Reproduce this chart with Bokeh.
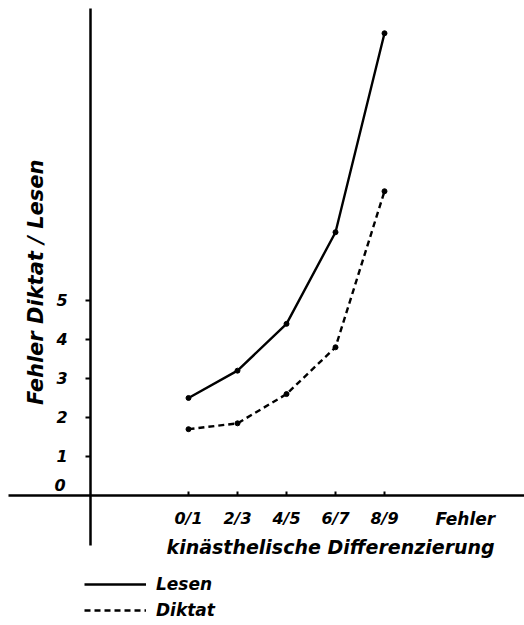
from bokeh.plotting import figure
from bokeh.models import LinearAxis, FixedTicker, Label, Legend, LegendItem, Range1d
from bokeh.embed import file_html
from bokeh.resources import INLINE
import math

# --- data ---
categories = ["0/1", "2/3", "4/5", "6/7", "8/9"]
cat_pos = [2, 3, 4, 5, 6]
lesen = [2.5, 3.2, 4.4, 6.75, 11.85]
diktat = [1.7, 1.85, 2.6, 3.8, 7.8]
y_ticks = [1, 2, 3, 4, 5]

FONT = "DejaVu Sans"

p = figure(width=524, height=625, output_backend="svg", toolbar_location=None,
           x_range=Range1d(-1.837, 8.857), y_range=Range1d(-3.333, 12.69),
           x_axis_location=None, y_axis_location=None,
           min_border_left=0, min_border_right=0, min_border_top=0, min_border_bottom=0)
p.outline_line_color = None
p.xgrid.visible = False
p.ygrid.visible = False
p.background_fill_color = "white"

# y axis at x=0
yax = LinearAxis(fixed_location=0, ticker=FixedTicker(ticks=y_ticks), bounds=(-1.28, 12.49))
yax.axis_line_width = 2.5
yax.axis_line_color = "black"
yax.major_tick_out = 5
yax.major_tick_in = 0
yax.major_tick_line_width = 2
yax.minor_tick_out = 0
yax.minor_tick_in = 0
yax.major_label_standoff = 18
yax.major_label_text_font = FONT
yax.major_label_text_font_style = "bold italic"
yax.major_label_text_font_size = "16px"
yax.major_label_text_color = "black"
p.add_layout(yax, "left")

# x axis at y=0
xax = LinearAxis(fixed_location=0, ticker=FixedTicker(ticks=cat_pos), bounds=(-1.67, 8.857))
xax.major_label_overrides = {c: s for c, s in zip(cat_pos, categories)}
xax.axis_line_width = 2.5
xax.axis_line_color = "black"
xax.major_tick_out = 0
xax.major_tick_in = 4
xax.major_tick_line_width = 2
xax.minor_tick_out = 0
xax.minor_tick_in = 0
xax.major_label_standoff = 14
xax.major_label_text_font = FONT
xax.major_label_text_font_style = "bold italic"
xax.major_label_text_font_size = "16px"
xax.major_label_text_color = "black"
p.add_layout(xax, "below")

# series
r_les = p.line(cat_pos, lesen, line_color="black", line_width=2.4)
p.scatter(cat_pos, lesen, size=5, color="black")
r_dik = p.line(cat_pos, diktat, line_color="black", line_width=2.4, line_dash="6 4")
p.scatter(cat_pos, diktat, size=5, color="black")

# texts
p.add_layout(Label(x=-0.62, y=0.28, text="0", text_align="center", text_baseline="middle",
                   text_font=FONT, text_font_style="bold italic", text_font_size="16px",
                   text_color="black"))
p.add_layout(Label(x=-1.12, y=5.56, text="Fehler  Diktat / Lesen", angle=math.pi / 2,
                   text_align="center", text_baseline="middle", text_font=FONT,
                   text_font_style="bold italic", text_font_size="21px", text_color="black"))
p.add_layout(Label(x=7.65, y=-0.59, text="Fehler", text_align="center", text_baseline="middle",
                   text_font=FONT, text_font_style="bold italic", text_font_size="17px",
                   text_color="black"))
p.add_layout(Label(x=4.9, y=-1.31, text="kinästhelische Differenzierung", text_align="center",
                   text_baseline="middle", text_font=FONT, text_font_style="bold italic",
                   text_font_size="19px", text_color="black"))

legend = Legend(items=[LegendItem(label="Lesen", renderers=[r_les]),
                       LegendItem(label="Diktat", renderers=[r_dik])],
                location=(84, 2), orientation="vertical",
                glyph_width=62, glyph_height=26, label_height=26, label_standoff=10,
                spacing=0, padding=4, margin=0,
                border_line_color=None, background_fill_alpha=0,
                label_text_font=FONT, label_text_font_style="bold italic",
                label_text_font_size="17px", label_text_color="black")
p.add_layout(legend, "center")

open("out.html", "w").write(file_html(p, INLINE))
